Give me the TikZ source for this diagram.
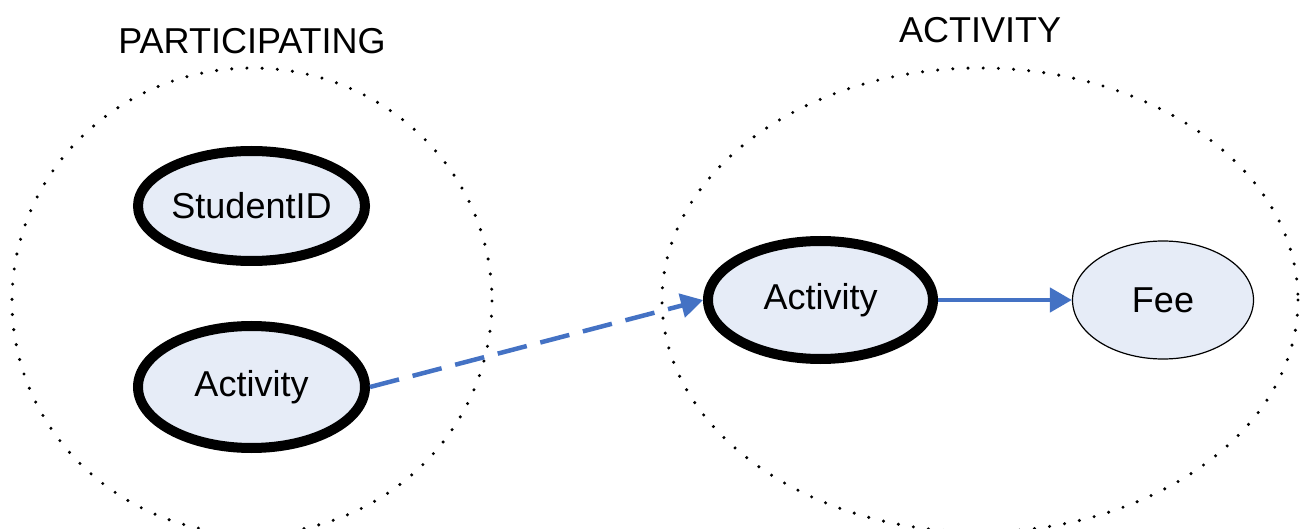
\documentclass[tikz,border=0pt]{standalone}
\usepackage{fontspec}
\setmainfont{Liberation Sans}
\usetikzlibrary{shapes.geometric,arrows.meta}
\definecolor{nodefill}{HTML}{E6ECF7}
\definecolor{arrowblue}{HTML}{4472C4}
\begin{document}
\begin{tikzpicture}[x=1pt,y=-1pt,
  every node/.style={font=\fontsize{36}{43}\selectfont},
  keybox/.style={ellipse,draw=black,fill=nodefill,line width=10pt,inner sep=0pt},
  attrbox/.style={ellipse,draw=black,fill=nodefill,line width=1.2pt,inner sep=0pt},
  groupline/.style={draw=black,line width=3.4pt,line cap=round,dash pattern=on 0pt off 15.2pt},
  title/.style={anchor=base,inner sep=0pt},
  link/.style={draw=arrowblue,line width=4.5pt,-{Triangle[length=22pt,width=24pt]}}
]
\useasboundingbox (0,0) rectangle (1301,529);
% groups
\draw[groupline] (252,301) ellipse [x radius=240, y radius=233];
\draw[groupline] (980,300) ellipse [x radius=318, y radius=232];
\node[title] (t1) at (252,54) {PARTICIPATING};
\node[title] (t2) at (980,43) {ACTIVITY};
% nodes
\node[keybox,minimum width=227pt,minimum height=110pt] (sid) at (251.5,206) {StudentID};
\node[keybox,minimum width=227pt,minimum height=122pt] (act1) at (251.5,387) {Activity};
\node[keybox,minimum width=225pt,minimum height=118pt] (act2) at (820.5,300) {Activity};
\node[attrbox,minimum width=181pt,minimum height=118pt] (fee) at (1163,300) {Fee};
% connectors
\draw[link,dash pattern=on 30pt off 14pt] (act1.east) -- (act2.west);
\draw[link] (act2.east) -- (fee.west);
\end{tikzpicture}
\end{document}
